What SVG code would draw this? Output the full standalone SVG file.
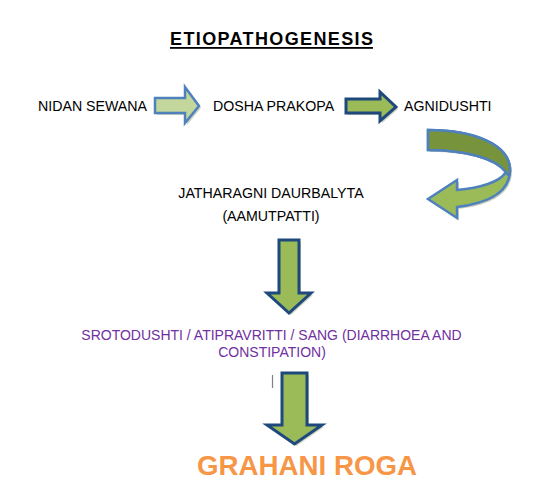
<svg xmlns="http://www.w3.org/2000/svg" width="559" height="500" viewBox="0 0 559 500">
<style>
.t{font-family:"Liberation Sans",Arial,sans-serif;font-size:14.2px;fill:#000}
.p{font-family:"Liberation Sans",Arial,sans-serif;font-size:14px;fill:#7030a0}
.shadow{fill:#a8ad8c;opacity:0.55}
.lt{fill:#c3d69b;stroke:#4f81bd;stroke-width:2.5;stroke-linejoin:miter}
.dk{fill:#9bbb59;stroke:#1f497d;stroke-width:3;stroke-linejoin:miter}
</style>
<rect width="559" height="500" fill="#fff"/>
<g id="title">
<text x="170" y="45" font-family="Liberation Sans,Arial,sans-serif" font-weight="bold" font-size="18" textLength="203" lengthAdjust="spacing">ETIOPATHOGENESIS</text>
<rect x="170" y="47" width="203" height="1.8" fill="#000"/>
</g>
<g id="nidan"><text class="t" x="38" y="111">NIDAN SEWANA</text></g>
<g id="dosha"><text class="t" x="213" y="111">DOSHA PRAKOPA</text></g>
<g id="agni"><text class="t" x="404" y="111">AGNIDUSHTI</text></g>
<g id="jathar">
<text class="t" x="271" y="198" text-anchor="middle">JATHARAGNI DAURBALYTA</text>
<text class="t" x="271" y="221" text-anchor="middle">(AAMUTPATTI)</text>
</g>
<g id="sroto">
<text class="p" x="271.5" y="340" text-anchor="middle">SROTODUSHTI / ATIPRAVRITTI / SANG (DIARRHOEA AND</text>
<text class="p" x="272" y="357" text-anchor="middle">CONSTIPATION)</text>
</g>
<g id="grahani">
<text x="307" y="475" text-anchor="middle" font-family="Liberation Sans,Arial,sans-serif" font-weight="bold" font-size="27.7" fill="#f79646">GRAHANI ROGA</text>
</g>
<g id="connectors">
<path class="shadow" d="M157,100 H187 V89 L201,108 L187,125 V115 H157 Z"/>
<path class="lt" d="M155,98 H185 V87 L199,106 L185,123 V113 H155 Z"/>
<path class="shadow" d="M348,101 H382 V94 L398,109 L382,123 V115 H348 Z"/>
<path class="dk" d="M346,99 H380 V92 L396,107 L380,121 V113 H346 Z"/>
<path class="shadow" d="M430,132 C477,132 512,147 512,172 C512,193 492,205 459,209 L459,220 L430,201 L459,182 L459,192 C482,190 502,184 508,174 C497,160 467,152 430,152 Z"/>
<path d="M428,130 C475,130 510,145 510,170 C510,191 490,203 457,207 L457,218 L428,199 L457,180 L457,190 C480,188 500,182 506,172 C495,158 465,150 428,150 Z" fill="#9bbb59" stroke="#4f81bd" stroke-width="2.5"/>
<path d="M428,130 C475,130 510,145 510,170 C510,175 509,178 506,172 C495,158 465,150 428,150 Z" fill="#77933c" stroke="#4f81bd" stroke-width="2.5"/>
<path class="shadow" d="M281,242 H301 V295 H313 L291,315 L269,295 H281 Z"/>
<path class="dk" d="M279,240 H299 V293 H311 L289,313 L267,293 H279 Z"/>
<line x1="272.5" y1="375" x2="272.5" y2="388" stroke="#808080" stroke-width="1.2"/>
<path class="shadow" d="M284,375 H309 V427 H324 L296.5,446 L269,427 H284 Z"/>
<path class="dk" d="M282,373 H307 V425 H322 L294.5,444 L267,425 H282 Z"/>
</g>
</svg>
